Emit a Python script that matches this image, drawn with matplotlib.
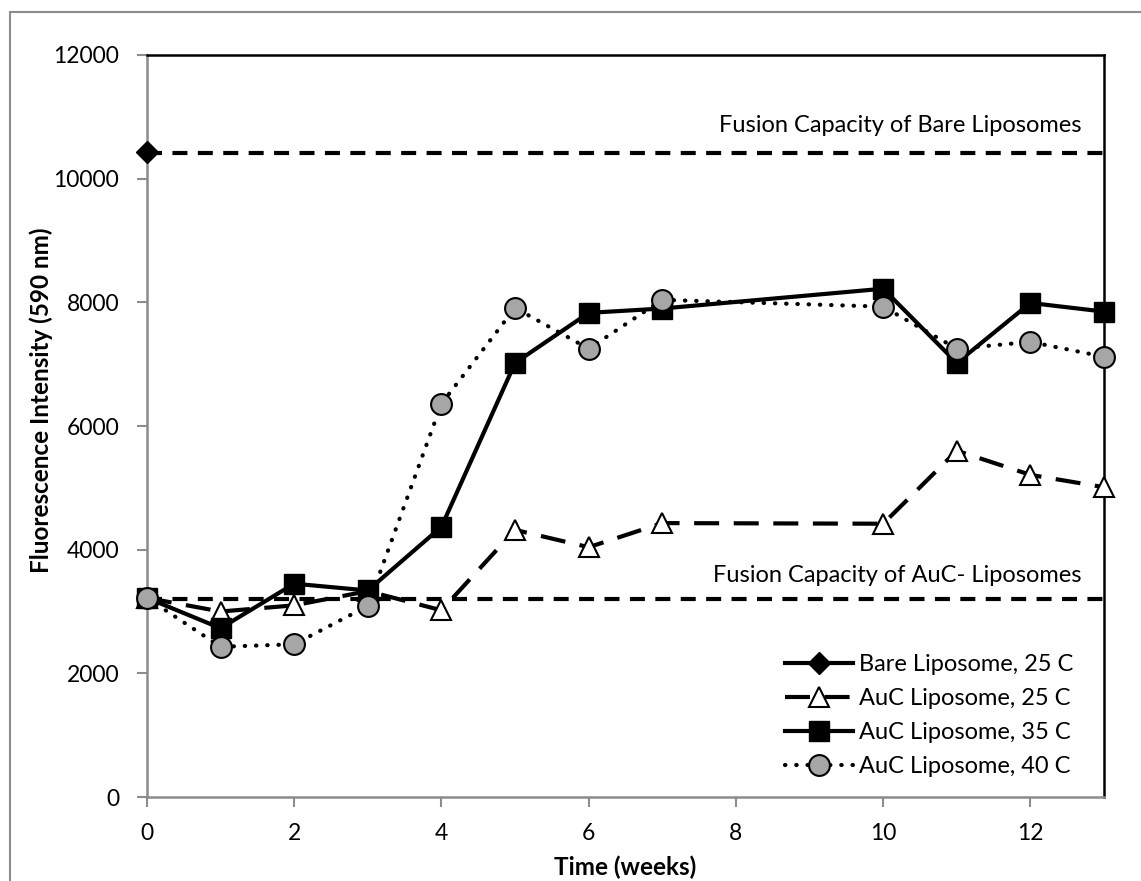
import numpy as np
import matplotlib.pyplot as plt
from matplotlib.patches import Rectangle

plt.rcParams['font.family'] = ['Lato', 'DejaVu Sans']

# data
weeks = [0, 1, 2, 3, 4, 5, 6, 7, 10, 11, 12, 13]
bare_x = [0]
bare_y = [10430]
auc25 = [3220, 3000, 3100, 3330, 3020, 4320, 4040, 4430, 4420, 5600, 5210, 5010]
auc35 = [3220, 2730, 3450, 3340, 4370, 7020, 7830, 7900, 8220, 7020, 7990, 7850]
auc40 = [3220, 2430, 2470, 3090, 6360, 7910, 7250, 8040, 7930, 7250, 7360, 7120]
bare_capacity = 10420
auc_capacity = 3200

fig = plt.figure(figsize=(11.41, 8.81), dpi=100)
ax = fig.add_axes([0.1288, 0.0953, 0.9676 - 0.1288, 0.9376 - 0.0953])

# outer chart border (cropped at right/bottom)
fig.patches.append(Rectangle((10 / 1141, -0.1), 1.2, (881 - 12) / 881 + 0.1,
                             transform=fig.transFigure, fill=False,
                             edgecolor='#8c8c8c', linewidth=1.5))

lw = 3
ax.hlines(bare_capacity, 0, 13, colors='black', linewidth=lw,
          linestyles=(0, (3.6, 2.5)), zorder=2)
ax.hlines(auc_capacity, 0, 13, colors='black', linewidth=lw,
          linestyles=(0, (3.6, 2.5)), zorder=2)

ax.plot(bare_x, bare_y, color='black', linewidth=lw, marker='D',
        markersize=11, label='Bare Liposome, 25 C', zorder=4, clip_on=False)
ax.plot(weeks, auc25, color='black', linewidth=lw, linestyle=(0, (6, 3.5)),
        marker='^', markersize=14, markerfacecolor='white',
        markeredgecolor='black', markeredgewidth=1.5,
        label='AuC Liposome, 25 C', zorder=3, clip_on=False)
ax.plot(weeks, auc35, color='black', linewidth=lw, marker='s',
        markersize=14, label='AuC Liposome, 35 C', zorder=4, clip_on=False)
ax.plot(weeks, auc40, color='black', linewidth=lw, linestyle=(0, (0.1, 2.6)),
        dash_capstyle='round', marker='o', markersize=15,
        markerfacecolor='#a6a6a6', markeredgecolor='black',
        markeredgewidth=1.5, label='AuC Liposome, 40 C', zorder=5,
        clip_on=False)

ax.set_xlim(0, 13)
ax.set_ylim(0, 12000)
ax.set_xticks([0, 2, 4, 6, 8, 10, 12])
ax.set_yticks(np.arange(0, 12001, 2000))
ax.tick_params(axis='both', direction='out', length=7, width=1.5,
               color='#8c8c8c', labelsize=16.5)
ax.tick_params(axis='x', pad=12)
ax.tick_params(axis='y', pad=13)

for side in ['left', 'bottom']:
    ax.spines[side].set_color('#8c8c8c')
    ax.spines[side].set_linewidth(1.8)
for side in ['top', 'right']:
    ax.spines[side].set_color('black')
    ax.spines[side].set_linewidth(1.8)

ax.set_xlabel('Time (weeks)', fontsize=17.5, fontweight='bold', labelpad=8)
ax.set_ylabel('Fluorescence Intensity (590 nm)', fontsize=17.5,
              fontweight='bold')
ax.yaxis.set_label_coords(-0.098, 0.535)

ax.text(12.7, 10860, 'Fusion Capacity of Bare Liposomes', fontsize=17,
        ha='right', va='center')
ax.text(12.7, 3590, 'Fusion Capacity of AuC- Liposomes', fontsize=17,
        ha='right', va='center')

ax.legend(loc='lower right', frameon=False, fontsize=17, handlelength=2.9,
          handletextpad=0.25, labelspacing=0.55, borderaxespad=0.0,
          bbox_to_anchor=(0.978, 0.014))

fig.savefig('out.png', dpi=100)
